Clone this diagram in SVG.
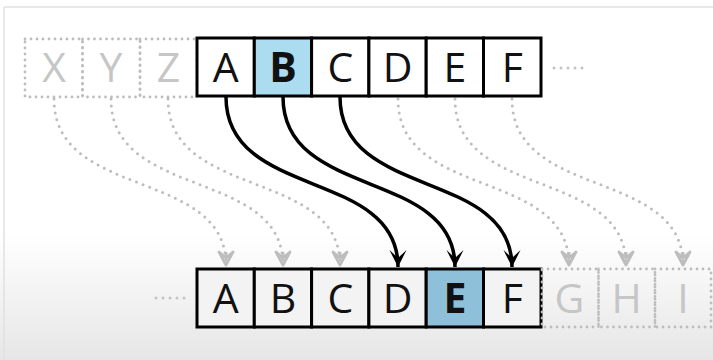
<svg xmlns="http://www.w3.org/2000/svg" width="713" height="360" viewBox="0 0 713 360">
<defs>
<linearGradient id="bg" x1="0" y1="0" x2="0" y2="1">
<stop offset="0" stop-color="#ffffff"/>
<stop offset="1" stop-color="#e6e6e6"/>
</linearGradient>
<marker id="ab" markerUnits="userSpaceOnUse" markerWidth="24" markerHeight="24" viewBox="-20 -12 24 24" refX="0" refY="0" orient="auto">
<path d="M-17,-8.5 L0,0 L-17,8.5 L-9,0 Z" fill="#000"/>
</marker>
<marker id="ag" markerUnits="userSpaceOnUse" markerWidth="24" markerHeight="24" viewBox="-20 -12 24 24" refX="0" refY="0" orient="auto">
<path d="M-13,-7 L0,0 L-13,7 L-7,0 Z M-7,0 L-13,0" fill="none" stroke="#bdbdbd" stroke-width="2.8" stroke-linejoin="round"/>
</marker>
<style>
.cell{fill:#fff;stroke:#000;stroke-width:3}
.cellb{fill:#f3f3f3;stroke:#000;stroke-width:3}
.ghost{fill:none;stroke:#bdbdbd;stroke-width:2.8;stroke-dasharray:0 6;stroke-linecap:round}
.t{font-family:"Open Sans","Noto Sans","DejaVu Sans",sans-serif;font-size:41px;text-anchor:middle;fill:#111}
.tb{font-weight:bold}
.tg{fill:#c6c6c6}
.dots{fill:none;stroke:#c4c4c4;stroke-width:3;stroke-dasharray:0 7;stroke-linecap:round}
.arr{fill:none;stroke:#000;stroke-width:3.5;marker-end:url(#ab)}
.garr{fill:none;stroke:#bdbdbd;stroke-width:3;stroke-dasharray:0 7;stroke-linecap:round;marker-end:url(#ag)}
</style>
</defs>
<rect x="0" y="0" width="713" height="360" fill="#fff"/>
<rect x="0" y="235" width="713" height="125" fill="url(#bg)"/>
<line x1="4" y1="7" x2="713" y2="7" stroke="#e0e0e0" stroke-width="1.5"/>
<line x1="4" y1="7" x2="4" y2="360" stroke="#e0e0e0" stroke-width="1.5"/>

<g id="connectors">
<path class="garr" d="M54,99 C54,200 226,168 226,265"/>
<path class="garr" d="M111,99 C111,200 283,168 283,265"/>
<path class="garr" d="M168,99 C168,200 340,168 340,265"/>
<path class="garr" d="M398,99 C398,200 569,168 569,265"/>
<path class="garr" d="M455,99 C455,200 626,168 626,265"/>
<path class="garr" d="M512,99 C512,200 683,168 683,265"/>
<path class="arr" d="M226,97 C226,200 398,168 398,267"/>
<path class="arr" d="M283,97 C283,200 455,168 455,267"/>
<path class="arr" d="M340,97 C340,200 512,168 512,267"/>
</g>

<g id="top-row">
<g id="top-X"><rect class="ghost" x="25" y="39" width="57.5" height="58"/><text class="t tg" x="54" y="82">X</text></g>
<g id="top-Y"><rect class="ghost" x="82.5" y="39" width="57.5" height="58"/><text class="t tg" x="111" y="82">Y</text></g>
<g id="top-Z"><rect class="ghost" x="140" y="39" width="57" height="58"/><text class="t tg" x="168.5" y="82">Z</text></g>
<g id="top-A"><rect class="cell" x="197" y="38" width="57.3" height="58"/><text class="t" x="225.6" y="82">A</text></g>
<g id="top-B"><rect class="cell" x="254.3" y="38" width="57.3" height="58" style="fill:#acdcef"/><text class="t tb" x="283" y="82">B</text></g>
<g id="top-C"><rect class="cell" x="311.6" y="38" width="57.3" height="58"/><text class="t" x="340.3" y="82">C</text></g>
<g id="top-D"><rect class="cell" x="368.9" y="38" width="57.3" height="58"/><text class="t" x="397.6" y="82">D</text></g>
<g id="top-E"><rect class="cell" x="426.2" y="38" width="57.3" height="58"/><text class="t" x="455" y="82">E</text></g>
<g id="top-F"><rect class="cell" x="483.5" y="38" width="57.5" height="58"/><text class="t" x="512.3" y="82">F</text></g>
<path class="dots" d="M554,68 L583,68"/>
</g>

<g id="bottom-row">
<path class="dots" d="M156,298 L185,298"/>
<g id="bot-A"><rect class="cellb" x="197" y="269" width="57.3" height="58"/><text class="t" x="225.6" y="313">A</text></g>
<g id="bot-B"><rect class="cellb" x="254.3" y="269" width="57.3" height="58"/><text class="t" x="283" y="313">B</text></g>
<g id="bot-C"><rect class="cellb" x="311.6" y="269" width="57.3" height="58"/><text class="t" x="340.3" y="313">C</text></g>
<g id="bot-D"><rect class="cellb" x="368.9" y="269" width="57.3" height="58"/><text class="t" x="397.6" y="313">D</text></g>
<g id="bot-E"><rect class="cellb" x="426.2" y="269" width="57.3" height="58" style="fill:#8fc0da"/><text class="t tb" x="455" y="313">E</text></g>
<g id="bot-F"><rect class="cellb" x="483.5" y="269" width="57.5" height="58"/><text class="t" x="512.3" y="313">F</text></g>
<g id="bot-G"><rect class="ghost" x="542" y="269" width="56.5" height="58"/><text class="t tg" x="569.5" y="313">G</text></g>
<g id="bot-H"><rect class="ghost" x="598.5" y="269" width="56.5" height="58"/><text class="t tg" x="626.5" y="313">H</text></g>
<g id="bot-I"><rect class="ghost" x="655" y="269" width="56" height="58"/><text class="t tg" x="683" y="313">I</text></g>
</g>
</svg>
